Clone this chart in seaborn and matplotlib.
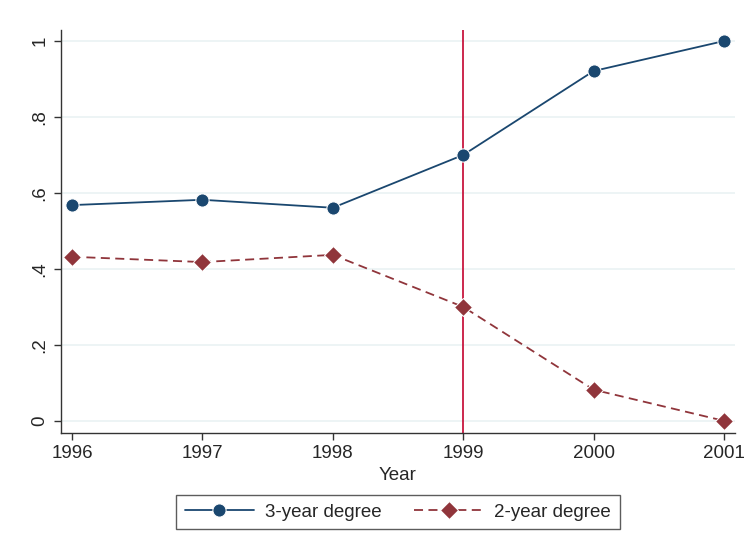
import numpy as np
import pandas as pd
import matplotlib
matplotlib.use("Agg")
import matplotlib.pyplot as plt
import seaborn as sns

years = [1996, 1997, 1998, 1999, 2000, 2001]
three_year = [0.568, 0.582, 0.561, 0.700, 0.921, 1.000]
two_year = [0.432, 0.418, 0.437, 0.300, 0.082, 0.000]
y_ticks = [0, 0.2, 0.4, 0.6, 0.8, 1.0]
y_tick_labels = ["0", ".2", ".4", ".6", ".8", "1"]

sns.set_theme(style="white")
plt.rcParams["font.family"] = ["Liberation Sans", "DejaVu Sans"]

df = pd.DataFrame({"Year": years, "3-year degree": three_year, "2-year degree": two_year})

fs = 13.5
fig = plt.figure(figsize=(7.51, 5.48), dpi=100)
ax = fig.add_axes([61 / 751, 1 - 433 / 548, (735 - 61) / 751, (433 - 30) / 548])

for y in y_ticks:
    ax.axhline(y, color="#eaf2f3", lw=1.2, zorder=0)

ax.axvline(1999, color="#c8173f", lw=1.3, zorder=1)

sns.lineplot(data=df, x="Year", y="3-year degree", ax=ax, color="#1a476f",
             marker="o", markersize=9.5, lw=1.3, label="3-year degree", zorder=3)
sns.lineplot(data=df, x="Year", y="2-year degree", ax=ax, color="#90353b",
             marker="D", markersize=9, lw=1.3, linestyle=(0, (5, 3)),
             label="2-year degree", zorder=3)

ax.set_xlim(1995.916, 2001.084)
ax.set_ylim(-0.032, 1.029)
ax.set_xticks(years)
ax.set_xticklabels([str(y) for y in years], fontsize=fs)
ax.set_yticks(y_ticks)
ax.set_yticklabels(y_tick_labels, fontsize=fs, rotation=90, va="center")
ax.set_xlabel("Year", fontsize=fs, labelpad=3)
ax.set_ylabel("")

for s in ["top", "right"]:
    ax.spines[s].set_visible(False)
for s in ["left", "bottom"]:
    ax.spines[s].set_color("#333333")
    ax.spines[s].set_linewidth(1.0)
ax.tick_params(axis="both", which="both", direction="out", length=5, width=1,
               color="#333333", bottom=True, left=True, pad=4)

if ax.legend_:
    ax.legend_.remove()
handles, labels = ax.get_legend_handles_labels()
leg = fig.legend(handles, labels, loc="center", bbox_to_anchor=(398 / 751, 1 - 512 / 548),
                 ncol=2, frameon=True, fancybox=False, fontsize=fs,
                 handlelength=3.7, handletextpad=0.6, columnspacing=1.7, borderpad=0.45)
leg.get_frame().set_edgecolor("#333333")
leg.get_frame().set_linewidth(1.0)

fig.savefig("out.png", dpi=100, facecolor="white")
